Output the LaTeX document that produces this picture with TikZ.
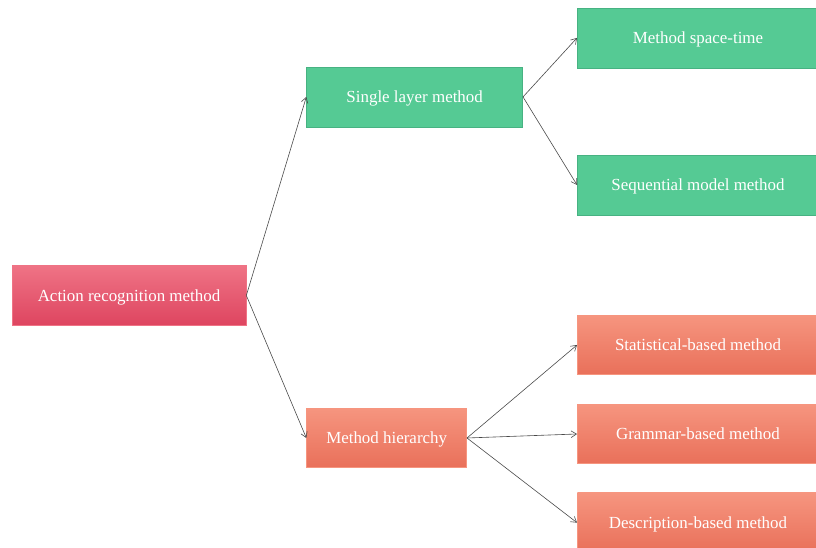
\documentclass[tikz,border=0pt]{standalone}
\usepackage{fontspec}
\setmainfont{Liberation Serif}
\usepackage{xcolor}
\usepackage{tikz}
\usetikzlibrary{arrows.meta,positioning,shadows}
\definecolor{verde}{HTML}{55CA94}
\definecolor{verdeborda}{HTML}{47B282}
\definecolor{rosaclaro}{HTML}{EF7385}
\definecolor{rosaescuro}{HTML}{DE4560}
\definecolor{salmaoclaro}{HTML}{F6957F}
\definecolor{salmaoescuro}{HTML}{E9705A}
\definecolor{cinza}{HTML}{4A4A4A}

\begin{document}
\begin{tikzpicture}[
  >={Straight Barb[length=4pt,width=5pt]},
  caixa/.style={rectangle, align=center, font=\fontsize{12.7}{15}\selectfont,
                text=white, inner sep=2pt, line width=0.5pt, text depth=0pt},
  raizcx/.style={caixa, top color=rosaclaro, bottom color=rosaescuro, draw=rosaclaro,
                 minimum width=175.5pt, minimum height=44.5pt,
                 drop shadow={opacity=0.3, shadow xshift=0.6pt, shadow yshift=-1pt}},
  folha/.style={caixa, fill=verde, draw=verdeborda, minimum height=45pt},
  salmao/.style={caixa, top color=salmaoclaro, bottom color=salmaoescuro,
                 draw=salmaoclaro, minimum height=44.5pt},
  seta/.style={->, line width=0.45pt, draw=cinza}]

  \useasboundingbox (0,0) rectangle (612pt,411pt);
  \clip (0,0) rectangle (612pt,411pt);

  \node[raizcx] (raiz) at (96.75pt,189.4pt) {Action recognition method};

  \node[folha, minimum width=162pt, right=45pt of raiz, yshift=148.9pt] (simples) {Single layer method};
  \node[salmao, minimum width=120pt, right=45pt of raiz, yshift=-106.9pt] (hier) {Method hierarchy};

  \node[folha, minimum width=181pt, right=40.5pt of simples, yshift=44.25pt] (espaco) {Method space-time};
  \node[folha, minimum width=181pt, right=40.5pt of simples, yshift=-66pt] (seq) {Sequential model method};

  \node[salmao, minimum width=181pt, right=82.5pt of hier, yshift=69.75pt] (estat) {Statistical-based method};
  \node[salmao, minimum width=181pt, right=82.5pt of hier, yshift=3pt] (gram) {Grammar-based method};
  \node[salmao, minimum width=181pt, right=82.5pt of hier, yshift=-63.5pt] (desc) {Description-based method};

  \draw[seta] (raiz.east) -- (simples.west);
  \draw[seta] (raiz.east) -- (hier.west);
  \draw[seta] (simples.east) -- (espaco.west);
  \draw[seta] (simples.east) -- (seq.west);
  \draw[seta] (hier.east) -- (estat.west);
  \draw[seta] (hier.east) -- (gram.west);
  \draw[seta] (hier.east) -- (desc.west);
\end{tikzpicture}
\end{document}
